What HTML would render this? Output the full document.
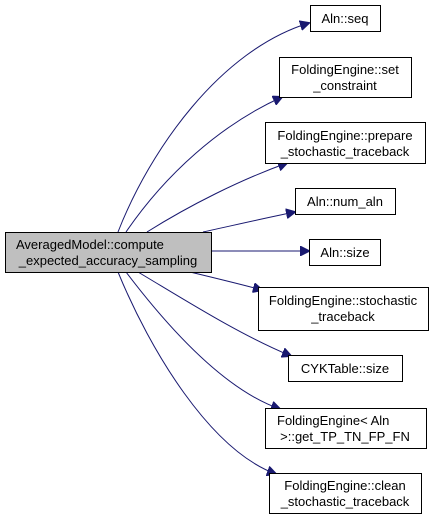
<!DOCTYPE html>
<html><head><meta charset="utf-8"><style>html,body{margin:0;padding:0;background:#fff}svg{display:block}text{font-family:"Liberation Sans",Arial,sans-serif;font-size:13px;fill:#000}</style></head><body>
<svg width="437" height="519" viewBox="0 0 437 519" xmlns="http://www.w3.org/2000/svg">
<defs><marker id="a" viewBox="0 0 10 10" refX="9" refY="5" markerWidth="10" markerHeight="10" markerUnits="userSpaceOnUse" orient="auto"><path d="M0,0 L10,5 L0,10 z" fill="#191970" stroke="#191970"/></marker></defs>
<g fill="none" stroke="#191970" stroke-width="1" marker-end="url(#a)">
<path d="M118,232 C150,150 220,50 309,23"/>
<path d="M126,232 C165,175 220,125 282,97"/>
<path d="M147,232 C190,205 240,180 287,163"/>
<path d="M203,232 C235,225 265,218 295,212"/>
<path d="M211,251 L309,251"/>
<path d="M190,272 C215,278 240,284 262,290"/>
<path d="M138,272 C185,300 240,335 291,356"/>
<path d="M126,272 C170,330 225,390 280,409"/>
<path d="M118,272 C150,350 210,450 276,474"/>
</g>
<g stroke="#000" stroke-width="1" fill="#fff">
<rect x="5.5" y="232.5" width="206" height="40" fill="#bfbfbf"/>
<rect x="310.5" y="5.5" width="70" height="26"/>
<rect x="279.5" y="57.5" width="132" height="40"/>
<rect x="265.5" y="122.5" width="160" height="41"/>
<rect x="295.5" y="188.5" width="100" height="26"/>
<rect x="309.5" y="239.5" width="71" height="26"/>
<rect x="258.5" y="287.5" width="170" height="43"/>
<rect x="288.5" y="355.5" width="114" height="26"/>
<rect x="265.5" y="408.5" width="161" height="40"/>
<rect x="269.5" y="473.5" width="152" height="40"/>
</g>
<text x="16" y="249">AveragedModel::compute</text>
<text x="108" y="265" text-anchor="middle">_expected_accuracy_sampling</text>
<text x="345" y="23" text-anchor="middle">Aln::seq</text>
<text x="345" y="74" text-anchor="middle">FoldingEngine::set</text>
<text x="345" y="90" text-anchor="middle">_constraint</text>
<text x="345" y="140" text-anchor="middle">FoldingEngine::prepare</text>
<text x="345" y="156" text-anchor="middle">_stochastic_traceback</text>
<text x="345" y="206" text-anchor="middle">Aln::num_aln</text>
<text x="345" y="257" text-anchor="middle">Aln::size</text>
<text x="343" y="305" text-anchor="middle">FoldingEngine::stochastic</text>
<text x="343" y="321" text-anchor="middle">_traceback</text>
<text x="345" y="373" text-anchor="middle">CYKTable::size</text>
<text x="277" y="425">FoldingEngine&lt; Aln</text>
<text x="345" y="441" text-anchor="middle">&gt;::get_TP_TN_FP_FN</text>
<text x="345" y="490" text-anchor="middle">FoldingEngine::clean</text>
<text x="345" y="506" text-anchor="middle">_stochastic_traceback</text>
</svg>
</body></html>
